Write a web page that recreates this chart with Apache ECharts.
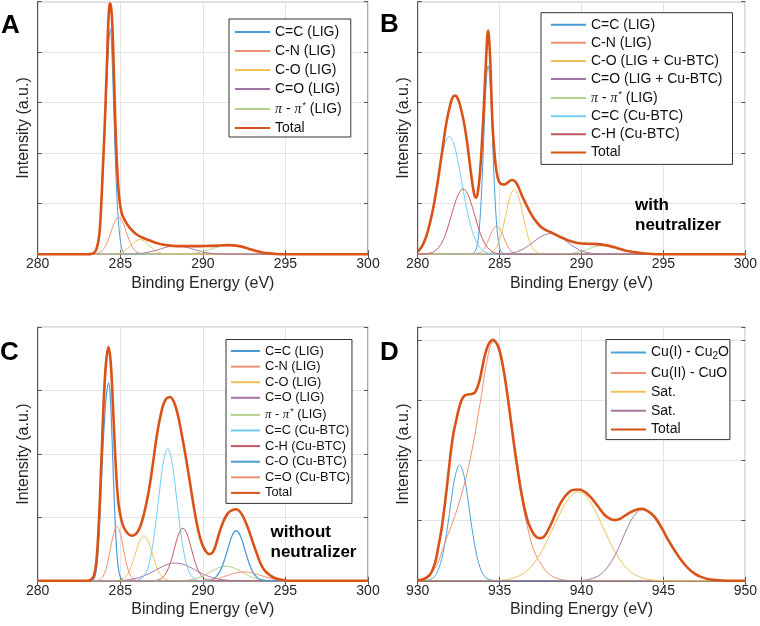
<!DOCTYPE html>
<html><head><meta charset="utf-8">
<script src="https://cdn.jsdelivr.net/npm/echarts@6/dist/echarts.min.js"></script>
<style>html,body{margin:0;padding:0;background:#fff}#c{width:760px;height:626px}</style>
</head><body><div id="c"></div>
<script>
// ---------- tick labels ----------
const xTicksC1s = [280, 285, 290, 295, 300];
const xTicksCu2p = [930, 935, 940, 945, 950];

// ---------- Panel A ----------
const A_CC_LIG = [[280,0],[283,0],[283.3,0.01],[283.5,0.06],[283.7,0.3],[283.85,0.9],[284.0,1.9],[284.15,3.1],[284.3,4.15],[284.4,4.46],[284.5,3.9],[284.6,2.9],[284.7,1.9],[284.8,1.1],[284.9,0.6],[285.0,0.28],[285.1,0.1],[285.2,0.03],[285.35,0],[300,0]];
const A_CN_LIG = [[280,0],[283.2,0],[283.4,0.004],[283.65,0.018],[283.9,0.07],[284.15,0.19],[284.4,0.40],[284.65,0.63],[284.9,0.73],[285.15,0.63],[285.4,0.40],[285.65,0.19],[285.9,0.07],[286.15,0.018],[286.4,0.004],[286.6,0],[300,0]];
const A_CO_LIG = [[280,0],[284.0,0],[284.45,0.002],[284.7,0.007],[284.95,0.022],[285.2,0.056],[285.45,0.115],[285.7,0.19],[285.95,0.26],[286.2,0.29],[286.45,0.26],[286.7,0.19],[286.95,0.115],[287.2,0.056],[287.45,0.022],[287.7,0.007],[287.95,0.002],[288.4,0],[300,0]];
const A_CDO_LIG = [[280,0],[285.0,0],[285.4,0.002],[285.9,0.007],[286.4,0.022],[286.9,0.054],[287.4,0.100],[287.9,0.146],[288.4,0.165],[288.9,0.146],[289.4,0.100],[289.9,0.054],[290.4,0.022],[290.9,0.007],[291.4,0.002],[291.9,0],[300,0]];
const A_PI_LIG = [[280,0],[288.0,0],[288.4,0.001],[288.9,0.005],[289.4,0.018],[289.9,0.047],[290.4,0.092],[290.9,0.14],[291.4,0.165],[291.8,0.168],[292.2,0.155],[292.6,0.125],[293.0,0.085],[293.4,0.048],[293.8,0.022],[294.2,0.008],[294.6,0.002],[295,0],[300,0]];
const A_TOTAL = [[280,0],[283.0,0],[283.3,0.01],[283.5,0.06],[283.65,0.22],[283.75,0.45],[283.86,1.07],[283.95,1.75],[284.04,2.4],[284.12,3.1],[284.2,3.85],[284.28,4.6],[284.38,4.97],[284.46,4.85],[284.53,4.45],[284.6,3.75],[284.67,2.95],[284.74,2.25],[284.83,1.6],[284.95,1.07],[285.1,0.8],[285.3,0.66],[285.6,0.51],[286.0,0.39],[286.4,0.32],[286.8,0.27],[287.2,0.22],[287.6,0.19],[288.0,0.17],[288.8,0.16],[289.6,0.16],[290.4,0.165],[291.0,0.172],[291.6,0.18],[292.0,0.17],[292.4,0.145],[292.8,0.105],[293.2,0.066],[293.6,0.035],[294.0,0.017],[294.4,0.006],[294.8,0],[300,0]];

// ---------- Panel B ----------
const B_CC_LIG = [[280,0],[283.2,0],[283.4,0.015],[283.5,0.05],[283.6,0.13],[283.7,0.32],[283.8,0.67],[283.9,1.25],[284.0,2.01],[284.1,2.84],[284.2,3.48],[284.3,3.73],[284.4,3.48],[284.5,2.84],[284.6,2.01],[284.7,1.25],[284.8,0.67],[284.9,0.32],[285.0,0.13],[285.1,0.05],[285.2,0.015],[285.4,0],[300,0]];
const B_CN_LIG = [[280,0],[283.0,0],[283.32,0.001],[283.57,0.007],[283.82,0.033],[284.07,0.114],[284.32,0.28],[284.57,0.47],[284.82,0.56],[285.07,0.47],[285.32,0.28],[285.57,0.114],[285.82,0.033],[286.07,0.007],[286.32,0.001],[286.6,0],[300,0]];
const B_CO_MIX = [[280,0],[283.6,0],[283.9,0.001],[284.15,0.005],[284.4,0.02],[284.65,0.071],[284.9,0.20],[285.15,0.45],[285.4,0.81],[285.65,1.14],[285.9,1.28],[286.15,1.14],[286.4,0.81],[286.65,0.45],[286.9,0.20],[287.15,0.071],[287.4,0.02],[287.65,0.005],[287.9,0.001],[288.3,0],[300,0]];
const B_CDO_MIX = [[280,0],[284.3,0],[284.6,0.002],[285.1,0.005],[285.6,0.018],[286.1,0.055],[286.6,0.133],[287.1,0.25],[287.6,0.36],[288.1,0.41],[288.6,0.36],[289.1,0.25],[289.6,0.133],[290.1,0.055],[290.6,0.018],[291.1,0.005],[291.6,0.001],[292,0],[300,0]];
const B_PI_LIG = [[280,0],[288.0,0],[288.3,0.001],[288.8,0.004],[289.3,0.014],[289.8,0.042],[290.3,0.092],[290.8,0.146],[291.3,0.17],[291.8,0.155],[292.3,0.115],[292.8,0.072],[293.3,0.038],[293.8,0.017],[294.3,0.005],[294.8,0],[300,0]];
const B_CC_BTC = [[280,0.067],[280.17,0.12],[280.42,0.27],[280.67,0.52],[280.92,0.89],[281.17,1.35],[281.42,1.83],[281.67,2.19],[281.92,2.33],[282.17,2.21],[282.42,1.90],[282.67,1.47],[282.92,1.02],[283.17,0.65],[283.42,0.37],[283.67,0.19],[283.92,0.087],[284.17,0.036],[284.42,0.014],[284.67,0.005],[284.92,0],[300,0]];
const B_CH_BTC = [[280,0],[280.27,0.002],[280.77,0.022],[281.02,0.057],[281.27,0.13],[281.52,0.26],[281.77,0.46],[282.02,0.73],[282.27,1.0],[282.52,1.21],[282.77,1.29],[283.02,1.21],[283.27,1.0],[283.52,0.73],[283.77,0.46],[284.02,0.26],[284.27,0.13],[284.52,0.057],[284.77,0.022],[285.27,0.002],[285.6,0],[300,0]];
const B_TOTAL = [[280,0.05],[280.25,0.15],[280.5,0.33],[280.75,0.62],[281.0,1.0],[281.25,1.5],[281.5,2.05],[281.75,2.6],[282.0,2.98],[282.16,3.12],[282.3,3.14],[282.45,3.08],[282.6,2.93],[282.8,2.65],[283.0,2.25],[283.17,1.82],[283.33,1.42],[283.47,1.16],[283.57,1.12],[283.68,1.25],[283.8,1.6],[283.92,2.2],[284.04,2.95],[284.15,3.7],[284.3,4.43],[284.42,3.9],[284.5,3.15],[284.58,2.5],[284.7,1.95],[284.82,1.62],[284.95,1.45],[285.1,1.39],[285.3,1.38],[285.5,1.42],[285.75,1.47],[285.95,1.44],[286.15,1.33],[286.35,1.17],[286.6,1.0],[286.9,0.81],[287.2,0.66],[287.5,0.55],[287.8,0.48],[288.1,0.44],[288.4,0.39],[288.7,0.34],[289.0,0.3],[289.3,0.26],[289.7,0.225],[290.1,0.21],[290.5,0.205],[290.95,0.2],[291.35,0.185],[291.75,0.16],[292.15,0.125],[292.55,0.085],[293.0,0.052],[293.5,0.03],[293.9,0.015],[294.3,0.005],[294.7,0],[300,0]];

// ---------- Panel C ----------
const C_CC_LIG = [[280,0],[283.0,0],[283.3,0.01],[283.5,0.1],[283.65,0.45],[283.8,1.2],[283.95,2.1],[284.1,2.75],[284.2,3.02],[284.3,3.12],[284.4,2.88],[284.5,2.27],[284.6,1.52],[284.7,0.87],[284.8,0.42],[284.9,0.17],[285.0,0.06],[285.1,0.02],[285.2,0],[300,0]];
const C_CN_LIG = [[280,0],[283.2,0],[283.55,0.004],[283.8,0.027],[284.05,0.12],[284.3,0.36],[284.55,0.69],[284.8,0.86],[285.05,0.69],[285.3,0.36],[285.55,0.12],[285.8,0.027],[286.05,0.004],[286.4,0],[300,0]];
const C_CO_LIG = [[280,0],[284.4,0],[284.68,0.003],[284.93,0.009],[285.18,0.035],[285.43,0.10],[285.68,0.24],[285.93,0.44],[286.18,0.63],[286.43,0.71],[286.68,0.63],[286.93,0.44],[287.18,0.24],[287.43,0.10],[287.68,0.035],[287.93,0.009],[288.18,0.003],[288.5,0],[300,0]];
const C_CDO_LIG = [[280,0],[284.3,0],[284.85,0.004],[285.35,0.012],[285.85,0.032],[286.35,0.07],[286.85,0.128],[287.35,0.198],[287.85,0.257],[288.35,0.28],[288.85,0.257],[289.35,0.198],[289.85,0.128],[290.35,0.07],[290.85,0.032],[291.35,0.012],[291.85,0.004],[292.4,0],[300,0]];
const C_PI_LIG = [[280,0],[288.0,0],[288.4,0.0015],[288.9,0.007],[289.4,0.025],[289.9,0.066],[290.4,0.132],[290.9,0.20],[291.4,0.23],[291.9,0.20],[292.4,0.132],[292.9,0.066],[293.4,0.025],[293.9,0.007],[294.4,0.0015],[294.8,0],[300,0]];
const C_CC_BTC = [[280,0],[285.5,0],[285.87,0.003],[286.12,0.016],[286.37,0.058],[286.62,0.17],[286.87,0.42],[287.12,0.85],[287.37,1.40],[287.62,1.89],[287.87,2.09],[288.12,1.89],[288.37,1.40],[288.62,0.85],[288.87,0.42],[289.12,0.17],[289.37,0.058],[289.62,0.016],[289.87,0.003],[290.2,0],[300,0]];
const C_CH_BTC = [[280,0],[286.7,0],[287.04,0.003],[287.29,0.013],[287.54,0.046],[287.79,0.13],[288.04,0.29],[288.29,0.52],[288.54,0.74],[288.79,0.83],[289.04,0.74],[289.29,0.52],[289.54,0.29],[289.79,0.13],[290.04,0.046],[290.29,0.013],[290.54,0.003],[290.9,0],[300,0]];
const C_CO_BTC = [[280,0],[289.9,0],[290.27,0.004],[290.52,0.017],[290.77,0.054],[291.02,0.14],[291.27,0.30],[291.52,0.51],[291.77,0.71],[292.02,0.79],[292.27,0.71],[292.52,0.51],[292.77,0.30],[293.02,0.14],[293.27,0.054],[293.52,0.017],[293.77,0.004],[294.1,0],[300,0]];
const C_CDO_BTC = [[280,0],[289.0,0],[289.5,0.0015],[290.0,0.006],[290.5,0.019],[291.0,0.045],[291.5,0.085],[292.0,0.124],[292.5,0.14],[293.0,0.124],[293.5,0.085],[294.0,0.045],[294.5,0.019],[295.0,0.006],[295.5,0.0015],[296,0],[300,0]];
const C_TOTAL = [[280,0],[283.0,0],[283.2,0.01],[283.4,0.08],[283.55,0.3],[283.7,0.9],[283.85,1.85],[284.0,2.85],[284.14,3.45],[284.28,3.69],[284.42,3.45],[284.55,2.8],[284.69,2.0],[284.8,1.5],[284.9,1.2],[285.05,0.98],[285.2,0.85],[285.45,0.75],[285.7,0.71],[285.95,0.74],[286.2,0.85],[286.45,1.07],[286.7,1.38],[286.95,1.8],[287.2,2.27],[287.45,2.62],[287.7,2.84],[288.0,2.9],[288.25,2.82],[288.5,2.6],[288.75,2.27],[288.95,1.98],[289.2,1.58],[289.45,1.17],[289.7,0.82],[289.95,0.58],[290.2,0.46],[290.4,0.42],[290.6,0.45],[290.8,0.58],[291.0,0.76],[291.25,0.94],[291.5,1.06],[291.75,1.11],[292.02,1.13],[292.25,1.09],[292.5,0.98],[292.75,0.82],[293.0,0.63],[293.25,0.44],[293.5,0.27],[293.75,0.16],[294.05,0.09],[294.35,0.045],[294.7,0.02],[295.0,0.005],[295.3,0],[300,0]];

// ---------- Panel D ----------
const D_CU1 = [[930,0],[930.3,0],[930.56,0.007],[930.81,0.027],[931.06,0.085],[931.31,0.22],[931.56,0.48],[931.81,0.88],[932.06,1.36],[932.31,1.77],[932.56,1.93],[932.81,1.77],[933.06,1.36],[933.31,0.88],[933.56,0.48],[933.81,0.22],[934.06,0.085],[934.31,0.027],[934.56,0.007],[934.85,0],[950,0]];
const D_CU2 = [[930,0.01],[930.25,0.03],[930.65,0.1],[931.05,0.21],[931.35,0.38],[931.65,0.63],[931.95,0.84],[932.26,1.07],[932.56,1.33],[932.87,1.63],[933.17,1.98],[933.47,2.4],[933.7,2.78],[933.9,3.1],[934.1,3.47],[934.3,3.76],[934.45,3.92],[934.6,3.98],[934.8,3.93],[935.09,3.68],[935.4,3.2],[935.65,2.72],[935.9,2.18],[936.2,1.6],[936.45,1.22],[936.7,0.9],[937.0,0.58],[937.3,0.38],[937.52,0.29],[937.8,0.17],[938.1,0.095],[938.5,0.04],[938.9,0.014],[939.4,0.004],[940,0],[950,0]];
const D_SAT1 = [[930,0],[934.3,0],[934.8,0.004],[935.3,0.016],[935.8,0.042],[936.3,0.098],[936.8,0.20],[937.3,0.37],[937.8,0.61],[938.3,0.90],[938.8,1.18],[939.3,1.40],[939.8,1.48],[940.3,1.40],[940.8,1.18],[941.3,0.90],[941.8,0.61],[942.3,0.37],[942.8,0.20],[943.3,0.098],[943.8,0.042],[944.3,0.016],[944.8,0.004],[945.4,0],[950,0]];
const D_SAT2 = [[930,0],[939.6,0],[940.18,0.01],[940.68,0.04],[941.18,0.11],[941.68,0.26],[942.18,0.50],[942.68,0.81],[943.18,1.07],[943.68,1.18],[944.18,1.12],[944.68,0.95],[945.18,0.72],[945.68,0.49],[946.18,0.30],[946.68,0.17],[947.18,0.085],[947.68,0.035],[948.18,0.013],[948.68,0.004],[949.2,0],[950,0]];
const D_TOTAL = [[930,0.01],[930.4,0.03],[930.75,0.1],[931.05,0.29],[931.25,0.55],[931.45,0.85],[931.6,1.15],[931.76,1.51],[931.9,1.85],[932.06,2.23],[932.2,2.48],[932.36,2.68],[932.5,2.85],[932.67,3.0],[932.85,3.08],[933.07,3.1],[933.3,3.11],[933.47,3.13],[933.62,3.2],[933.78,3.34],[933.92,3.52],[934.08,3.73],[934.25,3.89],[934.4,3.97],[934.58,4.01],[934.75,3.98],[934.92,3.9],[935.09,3.73],[935.3,3.42],[935.49,3.07],[935.7,2.64],[935.9,2.23],[936.1,1.86],[936.3,1.51],[936.5,1.23],[936.7,1.01],[936.9,0.87],[937.1,0.77],[937.3,0.72],[937.52,0.71],[937.72,0.74],[937.95,0.84],[938.2,0.98],[938.5,1.17],[938.8,1.33],[939.1,1.44],[939.45,1.51],[939.84,1.52],[940.2,1.48],[940.6,1.38],[941.0,1.24],[941.4,1.1],[941.75,1.03],[942.06,1.01],[942.4,1.04],[942.85,1.12],[943.3,1.18],[943.68,1.2],[944.1,1.15],[944.48,1.06],[944.9,0.88],[945.29,0.68],[945.7,0.5],[946.1,0.34],[946.5,0.21],[946.9,0.12],[947.3,0.065],[947.7,0.03],[948.2,0.012],[948.6,0.004],[949.2,0],[950,0]];

// ---------- styling / layout ----------
const FONT = "'Liberation Sans', Arial, Helvetica, sans-serif";
const COL = {
  blue: '#4a9bd4', salmon: '#ec9274', yellow: '#f0c15a', purple: '#a273a6',
  green: '#b0d18c', lblue: '#74cbef', dred: '#bf5966', total: '#d95319'
};
const TW = 2.6;

const panels = [
  { key: 'A', grid: {left: 37.7, top: 1.7, width: 330.3, height: 252.5}, ticks: xTicksC1s, ymax: 5,
    legend: {left: 229, top: 19, fontSize: 14, itemWidth: 35, itemGap: 5, padding: [6, 9, 2, 5]},
    series: [
      ['C=C (LIG)', A_CC_LIG, COL.blue, 1],
      ['C-N (LIG)', A_CN_LIG, COL.salmon, 1],
      ['C-O (LIG)', A_CO_LIG, COL.yellow, 1],
      ['C=O (LIG)', A_CDO_LIG, COL.purple, 1],
      ['π - π* (LIG)', A_PI_LIG, COL.green, 1],
      ['Total', A_TOTAL, COL.total, TW]
    ]},
  { key: 'B', grid: {left: 417.7, top: 1.7, width: 330, height: 252.5}, ticks: xTicksC1s, ymax: 5,
    legend: {left: 541, top: 12.7, fontSize: 14, itemWidth: 35, itemGap: 4.1, padding: [5, 10, 5, 9]},
    series: [
      ['C=C (LIG)', B_CC_LIG, COL.blue, 1],
      ['C-N (LIG)', B_CN_LIG, COL.salmon, 1],
      ['C-O (LIG + Cu-BTC)', B_CO_MIX, COL.yellow, 1],
      ['C=O (LIG + Cu-BTC)', B_CDO_MIX, COL.purple, 1],
      ['π - π* (LIG)', B_PI_LIG, COL.green, 1],
      ['C=C (Cu-BTC)', B_CC_BTC, COL.lblue, 1],
      ['C-H (Cu-BTC)', B_CH_BTC, COL.dred, 1],
      ['Total', B_TOTAL, COL.total, TW]
    ]},
  { key: 'C', grid: {left: 37.7, top: 327.3, width: 330.3, height: 253.5}, ticks: xTicksC1s, ymax: 4,
    legend: {left: 226, top: 339.5, fontSize: 12.8, itemWidth: 29, itemGap: 2.6, padding: [5, 2, 4, 4]},
    series: [
      ['C=C (LIG)', C_CC_LIG, COL.blue, 1.2],
      ['C-N (LIG)', C_CN_LIG, COL.salmon, 1],
      ['C-O (LIG)', C_CO_LIG, COL.yellow, 1],
      ['C=O (LIG)', C_CDO_LIG, COL.purple, 1],
      ['π - π* (LIG)', C_PI_LIG, COL.green, 1],
      ['C=C (Cu-BTC)', C_CC_BTC, COL.lblue, 1],
      ['C-H (Cu-BTC)', C_CH_BTC, COL.dred, 1],
      ['C-O (Cu-BTC)', C_CO_BTC, COL.blue, 1.3],
      ['C=O (Cu-BTC)', C_CDO_BTC, COL.salmon, 1],
      ['Total', C_TOTAL, COL.total, TW]
    ]},
  { key: 'D', grid: {left: 417.7, top: 327.3, width: 330, height: 253.5}, ticks: xTicksCu2p, ymax: 4.22,
    legend: {left: 606, top: 339.5, fontSize: 14, itemWidth: 35, itemGap: 4.9, padding: [6, 1, 3, 4]},
    series: [
      ['Cu(I) - Cu2O', D_CU1, '#4aa3d8', 1],
      ['Cu(II) - CuO', D_CU2, '#ec8f72', 1],
      ['Sat.', D_SAT1, COL.yellow, 1],
      ['Sat. ', D_SAT2, '#a47a9c', 1],
      ['Total', D_TOTAL, COL.total, TW]
    ]}
];

const AXC = '#555555';
const TXT = '#262626';
const grid = [], xAxis = [], yAxis = [], series = [], legend = [];

function fmt(full) {
  const s = full.slice(2);
  if (s.indexOf('π') === 0) {
    return '{p|π} - {p|π}{s|*}' + s.slice(s.indexOf('*') + 1);
  }
  if (s.indexOf('Cu2O') >= 0) return 'Cu(I) - Cu{b|2}O';
  return s;
}

panels.forEach((p, i) => {
  grid.push(Object.assign({show: true, borderColor: AXC, borderWidth: 1, containLabel: false}, p.grid));
  const lo = p.ticks[0], hi = p.ticks[p.ticks.length - 1], step = p.ticks[1] - p.ticks[0];
  xAxis.push({
    type: 'value', gridIndex: i, min: lo, max: hi, interval: step, position: 'bottom',
    axisLine: {show: true, lineStyle: {color: AXC}},
    axisTick: {show: true, inside: true, length: 4, lineStyle: {color: AXC}},
    axisLabel: {show: true, margin: 3, fontSize: 14, color: TXT, fontFamily: FONT},
    splitLine: {show: true, lineStyle: {color: '#e4e4e4', width: 1}},
    name: 'Binding Energy (eV)', nameLocation: 'middle', nameGap: 21,
    nameTextStyle: {fontSize: 16, color: TXT, fontFamily: FONT}
  });
  xAxis.push({
    type: 'value', gridIndex: i, min: lo, max: hi, interval: step, position: 'top',
    axisLine: {show: false}, axisLabel: {show: false}, splitLine: {show: false},
    axisTick: {show: true, inside: true, length: 4, lineStyle: {color: AXC}}
  });
  yAxis.push({
    type: 'value', gridIndex: i, min: 0, max: p.ymax, interval: 1, position: 'left',
    axisLine: {show: true, lineStyle: {color: AXC}},
    axisTick: {show: true, inside: true, length: 4, lineStyle: {color: AXC}},
    axisLabel: {show: false},
    splitLine: {show: true, lineStyle: {color: '#e4e4e4', width: 1}},
    name: 'Intensity (a.u.)', nameLocation: 'middle', nameGap: 6,
    nameTextStyle: {fontSize: 16, color: TXT, fontFamily: FONT}
  });
  yAxis.push({
    type: 'value', gridIndex: i, min: 0, max: p.ymax, interval: 1, position: 'right',
    axisLine: {show: false}, axisLabel: {show: false}, splitLine: {show: false},
    axisTick: {show: true, inside: true, length: 4, lineStyle: {color: AXC}}
  });
  const names = [];
  p.series.forEach((s, k) => {
    const nm = p.key + ':' + s[0];
    names.push(nm);
    series.push({
      type: 'line', name: nm, xAxisIndex: 2 * i, yAxisIndex: 2 * i,
      data: s[1], smooth: 0.4, symbol: 'none', showSymbol: false, clip: false,
      lineStyle: {color: s[2], width: s[3]}, itemStyle: {color: s[2]},
      z: s[0] === 'Total' ? 5 : 2, silent: true, animation: false
    });
  });
  const L = p.legend;
  legend.push({
    data: names, orient: 'vertical', left: L.left, top: L.top,
    itemWidth: L.itemWidth, itemHeight: 14, itemGap: L.itemGap, padding: L.padding,
    backgroundColor: '#ffffff', borderColor: '#333333', borderWidth: 1, borderRadius: 0,
    selectedMode: false, formatter: fmt,
    itemStyle: {opacity: 0},
    textStyle: {
      fontSize: L.fontSize, color: '#111111', fontFamily: FONT,
      rich: {
        p: {fontSize: L.fontSize, fontFamily: "'Liberation Serif', 'Times New Roman', serif", fontStyle: 'italic', color: '#111111'},
        s: {fontSize: 9, padding: [0, 0, 7, 1], color: '#111111', fontFamily: FONT},
        b: {fontSize: 10, padding: [7, 0, 0, 0], color: '#111111', fontFamily: FONT}
      }
    }
  });
});

const letterFont = 'bold 26px ' + FONT;
const noteFont = 'bold 17px ' + FONT;
const option = {
  backgroundColor: '#ffffff',
  animation: false,
  grid, xAxis, yAxis, series, legend,
  graphic: [
    {type: 'text', z: 100, left: 1, top: 13, style: {text: 'A', font: letterFont, fill: '#000'}},
    {type: 'text', z: 100, left: 380, top: 12, style: {text: 'B', font: letterFont, fill: '#000'}},
    {type: 'text', z: 100, left: 0, top: 340, style: {text: 'C', font: letterFont, fill: '#000'}},
    {type: 'text', z: 100, left: 380, top: 340, style: {text: 'D', font: letterFont, fill: '#000'}},
    {type: 'text', z: 100, left: 635, top: 195, style: {text: 'with\nneutralizer', font: noteFont, lineHeight: 20, fill: '#000'}},
    {type: 'text', z: 100, left: 270.5, top: 522, style: {text: 'without\nneutralizer', font: noteFont, lineHeight: 20, fill: '#000'}}
  ]
};

const chart = echarts.init(document.getElementById('c'), null, {renderer: 'canvas', width: 760, height: 626});
chart.setOption(option);
</script></body></html>
